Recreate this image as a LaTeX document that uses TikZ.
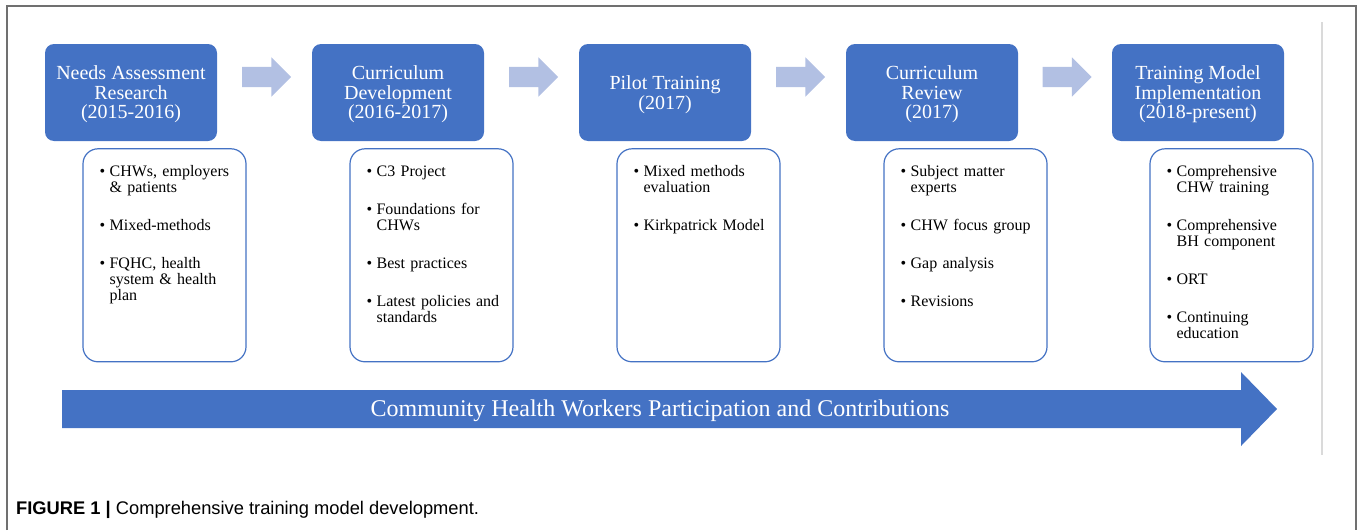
\documentclass[tikz,border=0pt]{standalone}
\usepackage{fontspec}
\setmainfont{Liberation Serif}
\newfontfamily\capfont{Liberation Sans}
\usepackage{tikz}
\usetikzlibrary{positioning,calc,shapes.arrows}

\definecolor{hblue}{RGB}{68,114,196}
\definecolor{chevblue}{RGB}{178,192,227}
\definecolor{framegray}{RGB}{112,112,112}
\definecolor{guidegray}{RGB}{218,218,218}

% one bullet point, later lines hang under the text
\newcommand{\itm}[1]{\hangindent=10pt\hangafter=1\makebox[10pt][l]{\textbullet}#1\par\vskip22pt}

\begin{document}
\begin{tikzpicture}
  [x=1pt,y=-1pt,
   head/.style={rectangle,rounded corners=9pt,fill=hblue,text=white,
     minimum width=172pt,minimum height=97pt,inner sep=0pt,align=center,
     text depth=-3.5pt,font=\fontsize{20}{19.5}\selectfont},
   detail/.style={rectangle,rounded corners=15pt,draw=hblue,line width=1.2pt,
     fill=white,minimum width=163pt,minimum height=213pt,inner sep=0pt},
   points/.style={anchor=base west,inner sep=0pt,text width=146pt,align=left,
     font=\fontsize{16}{16}\selectfont},
   chev/.style={single arrow,fill=chevblue,minimum height=49pt,
     inner xsep=0pt,inner ysep=10pt,single arrow head extend=9.5pt},
   frame/.style={draw=framegray,line width=1.5pt},
   guide/.style={draw=guidegray,line width=1.2pt}]
  \useasboundingbox (0,0) rectangle (1357,530);

  \draw[frame] (7,530) -- (7,6) -- (1356,6) -- (1356,530);
  \draw[guide] (1322,22) -- (1322,455);

  % the five stages
  \node[head] (h1) at (131,92.5)  {Needs Assessment\\Research\\(2015-2016)};
  \node[head] (h2) at (398,92.5)  {Curriculum\\Development\\(2016-2017)};
  \node[head] (h3) at (665,92.5)  {Pilot Training\\(2017)};
  \node[head] (h4) at (932,92.5)  {Curriculum\\Review\\(2017)};
  \node[head] (h5) at (1198,92.5) {Training Model\\Implementation\\(2018-present)};

  \foreach \i/\j in {1/2,2/3,3/4,4/5}
    \node[chev,yshift=15.5pt,xshift=-3pt] (a\i) at ($(h\i.east)!.5!(h\j.west)$) {};

  \foreach \n in {1,...,5}
    \node[detail,below=7pt of h\n,xshift=33.5pt] (d\n) {};

  \node[points] (t1) at ($(d1.north west)+(17,28)$)
    {\itm{CHWs, employers\newline\& patients}\itm{Mixed-methods}\itm{FQHC, health\newline system \& health\newline plan}};
  \node[points] (t2) at ($(d2.north west)+(17,28)$)
    {\itm{C3 Project}\itm{Foundations for\newline CHWs}\itm{Best practices}\itm{Latest policies and\newline standards}};
  \node[points] (t3) at ($(d3.north west)+(17,28)$)
    {\itm{Mixed methods\newline evaluation}\itm{Kirkpatrick Model}};
  \node[points] (t4) at ($(d4.north west)+(17,28)$)
    {\itm{Subject matter\newline experts}\itm{CHW focus group}\itm{Gap analysis}\itm{Revisions}};
  \node[points] (t5) at ($(d5.north west)+(17,28)$)
    {\itm{Comprehensive\newline CHW training}\itm{Comprehensive\newline BH component}\itm{ORT}\itm{Continuing\newline education}};

  % long arrow along the bottom
  \fill[hblue] (62,390) -- (1241,390) -- (1241,372) -- (1277,409)
    -- (1241,446) -- (1241,428) -- (62,428) -- cycle;
  \node[text=white,font=\fontsize{24}{24}\selectfont] (chw) at (660,411)
    {Community Health Workers Participation and Contributions};

  \node[anchor=base west,inner sep=0pt,font=\capfont\fontsize{18.3}{18.3}\selectfont] (fig) at (16,514)
    {\textbf{FIGURE 1 |} Comprehensive training model development.};
\end{tikzpicture}
\end{document}
